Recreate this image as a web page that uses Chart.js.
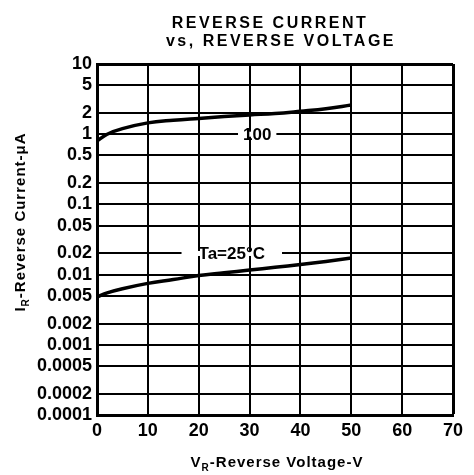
<!DOCTYPE html>
<html>
<head>
<meta charset="utf-8">
<script src="https://cdn.jsdelivr.net/npm/chart.js@4"></script>
<style>
html, body { margin: 0; padding: 0; background: #fff; }
</style>
</head>
<body>
<canvas id="chart" width="474" height="475"></canvas>
<script>
// === Data ===
const voltage = [0, 2, 5, 10, 15, 20, 25, 30, 35, 40, 45, 50];
const current100 = [0.8, 1.0, 1.2, 1.45, 1.58, 1.68, 1.78, 1.88, 1.97, 2.12, 2.3, 2.6];
const current25 = [0.0048, 0.0055, 0.0063, 0.0075, 0.0085, 0.0097, 0.0106, 0.0116, 0.0127, 0.0139, 0.0154, 0.0172];

const xTicks = [0, 10, 20, 30, 40, 50, 60, 70];
const yTickValues = [0.0001, 0.0002, 0.0005, 0.001, 0.002, 0.005, 0.01, 0.02, 0.05, 0.1, 0.2, 0.5, 1, 2, 5, 10];
const yTickLabels = ['0.0001', '0.0002', '0.0005', '0.001', '0.002', '0.005', '0.01', '0.02', '0.05', '0.1', '0.2', '0.5', '1', '2', '5', '10'];

const titleLines = ['REVERSE CURRENT', 'vs, REVERSE VOLTAGE'];
const curveLabels = [
    { text: '100', x: 31.5, y: 1, pad: 5 },
    { text: 'Ta=25°C', x: 26.5, y: 0.02, pad: 17 }
];

const labelFont = 'bold 17px "Liberation Sans", Arial, sans-serif';

// draws text with a small subscript piece, e.g. I + R
function drawSubText(ctx, main, sub, rest, x, y) {
    ctx.font = 'bold 15px "Liberation Sans", Arial, sans-serif';
    const w1 = ctx.measureText(main).width;
    ctx.font = 'bold 10px "Liberation Sans", Arial, sans-serif';
    const w2 = ctx.measureText(sub).width;
    ctx.font = 'bold 15px "Liberation Sans", Arial, sans-serif';
    const w3 = ctx.measureText(rest).width;
    let cx = x - (w1 + w2 + w3) / 2;
    ctx.textAlign = 'left';
    ctx.textBaseline = 'middle';
    ctx.fillText(main, cx, y);
    cx += w1;
    ctx.font = 'bold 10px "Liberation Sans", Arial, sans-serif';
    ctx.fillText(sub, cx, y + 5);
    cx += w2;
    ctx.font = 'bold 15px "Liberation Sans", Arial, sans-serif';
    ctx.fillText(rest, cx, y);
}

const textPlugin = {
    id: 'datasheetText',
    afterDraw(chart) {
        const ctx = chart.ctx;
        const area = chart.chartArea;
        const xs = chart.scales.x;
        const ys = chart.scales.y;
        const midX = (area.left + area.right) / 2;
        ctx.save();
        ctx.fillStyle = '#000';

        // title
        ctx.font = 'bold 16px "Liberation Sans", Arial, sans-serif';
        ctx.letterSpacing = '2.5px';
        ctx.textAlign = 'center';
        ctx.textBaseline = 'middle';
        ctx.fillText(titleLines[0], midX - 5, 24);
        ctx.fillText(titleLines[1], midX + 6, 42);

        // axis titles
        ctx.letterSpacing = '1px';
        drawSubText(ctx, 'V', 'R', '-Reverse Voltage-V', midX + 2, 463);
        ctx.save();
        ctx.translate(21, 222);
        ctx.rotate(-Math.PI / 2);
        drawSubText(ctx, 'I', 'R', '-Reverse Current-μA', 0, 0);
        ctx.restore();

        // curve labels sitting on gridlines
        ctx.letterSpacing = '0px';
        ctx.font = labelFont;
        ctx.textAlign = 'center';
        curveLabels.forEach(l => {
            const px = xs.getPixelForValue(l.x);
            const py = ys.getPixelForValue(l.y);
            const w = ctx.measureText(l.text).width;
            ctx.fillStyle = '#fff';
            ctx.fillRect(px - w / 2 - l.pad, py - 2.5, w + 2 * l.pad, 5);
            ctx.fillStyle = '#000';
            ctx.fillText(l.text, px, py + 1);
        });
        ctx.restore();
    }
};

const tickFont = { family: '"Liberation Sans", Arial, sans-serif', size: 18, weight: 'bold' };

new Chart(document.getElementById('chart'), {
    type: 'line',
    data: {
        datasets: [
            {
                label: '100',
                data: voltage.map((v, i) => ({ x: v, y: current100[i] })),
                borderColor: '#000',
                borderWidth: 3.5,
                pointRadius: 0,
                tension: 0.4,
                fill: false
            },
            {
                label: 'Ta=25°C',
                data: voltage.map((v, i) => ({ x: v, y: current25[i] })),
                borderColor: '#000',
                borderWidth: 3.5,
                pointRadius: 0,
                tension: 0.4,
                fill: false
            }
        ]
    },
    options: {
        responsive: false,
        animation: false,
        layout: { padding: { top: 64, right: 21, left: 0, bottom: 0 } },
        plugins: {
            legend: { display: false },
            tooltip: { enabled: false },
            title: { display: false }
        },
        scales: {
            x: {
                type: 'linear',
                min: 0,
                max: 70,
                afterBuildTicks: scale => { scale.ticks = xTicks.map(v => ({ value: v })); },
                afterFit: scale => { scale.height = 60; },
                ticks: { color: '#000', font: tickFont, padding: 5, autoSkip: false, maxRotation: 0 },
                grid: {
                    color: '#000',
                    lineWidth: c => (c.tick && c.tick.value === 70) ? 3 : 2,
                    drawTicks: false
                },
                border: { color: '#000', width: 3 }
            },
            y: {
                type: 'logarithmic',
                min: 0.0001,
                max: 10,
                afterBuildTicks: scale => { scale.ticks = yTickValues.map(v => ({ value: v })); },
                afterFit: scale => { scale.width = 97; },
                ticks: {
                    color: '#000',
                    font: tickFont,
                    padding: 5,
                    autoSkip: false,
                    callback: value => yTickLabels[yTickValues.indexOf(value)]
                },
                grid: {
                    color: '#000',
                    lineWidth: c => (c.tick && c.tick.value === 10) ? 3 : 2,
                    drawTicks: false
                },
                border: { color: '#000', width: 3 }
            }
        }
    },
    plugins: [textPlugin]
});
</script>
</body>
</html>
